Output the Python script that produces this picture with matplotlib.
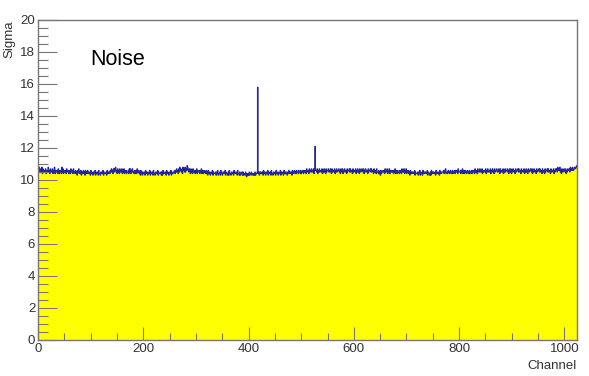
import numpy as np
import matplotlib
matplotlib.use("Agg")
import matplotlib.pyplot as plt
from matplotlib.ticker import MultipleLocator

# per-channel noise, one digit per channel: sigma = 10 + digit/10
# 16 rows x 64 channels = 1024 channels
noise_rows = [
    "76856758 47566574 66585647 65574658 46556475 46654857 46556475 66456475",
    "56475546 45365745 46354564 53645465 44536454 35446354 45364435 54463544",
    "45364545 46575647 57685647 56475657 46574656 45564757 46575546 45647556",
    "45364535 44536454 35446354 45364435 54463544 45353645 44536454 35446354",
    "45564657 56475867 56486758 57698657 64756475 56465746 55646574 65465546",
    "45364543 54463544 45354634 45364435 54463544 35364435 44536454 45364435",
    "34453534 43542434 35344534 43435344 54453545 44536454 35446354 45364435",
    "44536454 35446354 45364545 43546455 45364556 45465546 55464556 46556475",
    "56475657 56574656 65746575 66574657 56475667 56576475 66574657 56675647",
    "65746576 56475667 57566475 66574657 56476567 65746576 56475667 57566475",
    "56475546 45364556 56475657 46574656 55646574 65465546 56475657 46574656",
    "45364545 54463544 45354634 45364545 54463544 35364545 44536454 45364545",
    "55646574 45465546 55464556 46556475 55646574 56465546 55464556 46556475",
    "56475657 56574656 65746575 56574657 56475667 56576475 56574657 56675647",
    "65746576 56475667 57566475 66574657 56476567 65746576 56475667 57566475",
    "56475667 57566475 66574657 67586768 56476567 65746576 67586768 66788789",
]
# noisy channels
spike_channels = [417, 526]
spike_sigma = [15.8, 12.1]

digits = "".join(noise_rows).replace(" ", "")
assert len(digits) == 1024, len(digits)
sigma = 10.0 + np.array([int(c) for c in digits]) / 10.0
for ch, s in zip(spike_channels, spike_sigma):
    sigma[ch] = s
edges = np.arange(len(sigma) + 1)

plt.rcParams['font.family'] = ['Liberation Sans', 'DejaVu Sans']

fig = plt.figure(figsize=(5.89, 3.76), dpi=100)
ax = fig.add_axes([38 / 589, 36 / 376, 539 / 589, 320 / 376])

ax.stairs(sigma, edges, fill=True, color='#ffff00', linewidth=0)
ax.stairs(sigma, edges, baseline=None, color='#25259c', linewidth=0.8)

ax.set_xlim(0, 1024)
ax.set_ylim(0, 20)
ax.xaxis.set_major_locator(MultipleLocator(200))
ax.xaxis.set_minor_locator(MultipleLocator(50))
ax.yaxis.set_major_locator(MultipleLocator(2))
ax.yaxis.set_minor_locator(MultipleLocator(0.5))

frame = '#777777'
for sp in ax.spines.values():
    sp.set_color(frame)
    sp.set_linewidth(1.0)
    sp.set_zorder(5)

ax.tick_params(axis='both', which='both', direction='in', color=frame,
               labelcolor='#333333', labelsize=9.5, width=0.8)
ax.tick_params(axis='x', which='major', length=9.5, pad=2.5)
ax.tick_params(axis='x', which='minor', length=5)
ax.tick_params(axis='y', which='major', length=14, pad=2)
ax.tick_params(axis='y', which='minor', length=7)

fig.text(9 / 589, 1 - 20 / 376, 'Sigma', rotation=90, ha='center', va='top',
         fontsize=9.5, color='#333333')
fig.text(577 / 589, 1 - 360 / 376, 'Channel', ha='right', va='top',
         fontsize=9.5, color='#333333')
ax.text(99, 17.2, 'Noise', fontsize=15.5, color='black', ha='left', va='baseline')

fig.savefig('out.png', dpi=100)
